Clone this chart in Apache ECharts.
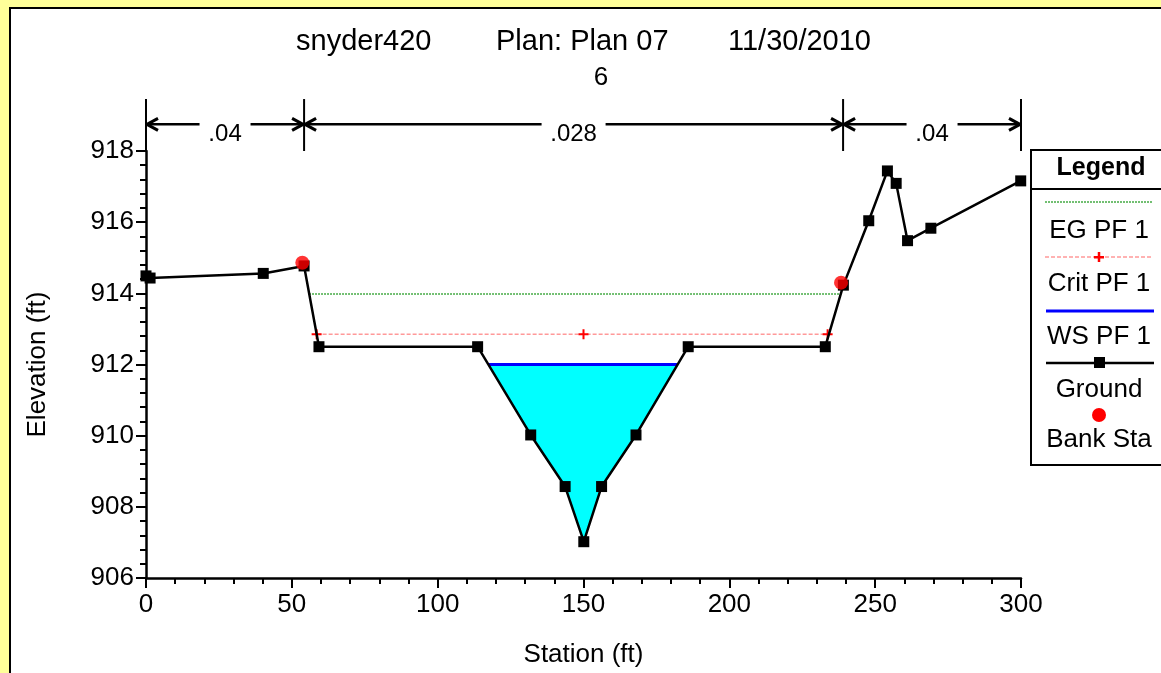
<!DOCTYPE html>
<html><head><meta charset="utf-8">
<script src="https://cdn.jsdelivr.net/npm/echarts@6/dist/echarts.min.js"></script>
<style>
html,body{margin:0;padding:0;width:1161px;height:673px;overflow:hidden;background:#FFFF99;}
#panel{position:absolute;left:9px;top:7px;right:0;bottom:0;background:#fff;border-left:2px solid #000;border-top:2px solid #000;}
#chart{position:absolute;left:0;top:0;width:1161px;height:673px;}
</style></head><body>
<div id="panel"></div><div id="chart"></div>
<script>
// ---- data ----
const groundStation = [0, 1.4, 40.2, 54.2, 59.3, 113.7, 131.9, 143.7, 150.1, 156.2, 168.0, 185.9, 232.9, 239.1, 247.8, 254.2, 257.2, 261.1, 269.1, 299.9];
const groundElev    = [914.49, 914.43, 914.56, 914.77, 912.5, 912.5, 910.02, 908.57, 907.02, 908.57, 910.02, 912.5, 912.5, 914.23, 916.04, 917.44, 917.09, 915.48, 915.83, 917.16];
const bankStation = [53.6, 238.3];
const bankElev    = [914.86, 914.3];
const egStation = [55.9, 238.1];
const egElev    = [913.98, 913.98];
const critStation = [58.5, 150, 233.7];
const critElev    = [912.85, 912.85, 912.85];
const wsStation = [117.3, 182.4];
const wsElev    = [912.0, 912.0];
const nStation = [0, 54.2, 239, 300];
const nValue   = ['.04', '.028', '.04'];
const xTickValues = [0, 50, 100, 150, 200, 250, 300];
const yTickValues = [906, 908, 910, 912, 914, 916, 918];

const titleParts = ['snyder420', 'Plan: Plan 07', '11/30/2010'];
const subTitle = '6';
const xName = 'Station (ft)';
const yName = 'Elevation (ft)';
const legendNames = ['EG PF 1', 'Crit PF 1', 'WS PF 1', 'Ground', 'Bank Sta'];

// ---- helpers ----
const FONT = "'Liberation Sans', Arial, sans-serif";
const zip = (a, b) => a.map((v, i) => [v, b[i]]);
const PLUS = 'path://M4,0H6V4H10V6H6V10H4V6H0V4H4Z';

const waterPoly = [[wsStation[0], wsElev[0]]]
  .concat(zip(groundStation, groundElev).filter(p => p[0] > wsStation[0] && p[0] < wsStation[1]))
  .concat([[wsStation[1], wsElev[1]]]);

const nTop = 919.46, nArrow = 918.75, nLabel = 918.48, nBottom = 918.0;

const chart = echarts.init(document.getElementById('chart'), null, {renderer: 'canvas'});

const axisCommon = {
  type: 'value',
  axisLine: {show: true, onZero: false, lineStyle: {color: '#000', width: 2.5}},
  axisTick: {show: true, length: 10, lineStyle: {color: '#000', width: 2}},
  minorTick: {show: true, splitNumber: 5, length: 6, lineStyle: {color: '#000', width: 2}},
  splitLine: {show: false},
  minorSplitLine: {show: false},
  axisLabel: {color: '#000', fontSize: 26, fontFamily: FONT},
  nameLocation: 'middle',
  nameTextStyle: {color: '#000', fontSize: 26, fontFamily: FONT}
};

const LX = 1099;
const txt = (x, y, s, f) => ({type: 'text', x: x, y: y, z: 101, style: {text: s, font: f || ('26px ' + FONT), fill: '#000', align: 'center', verticalAlign: 'middle'}});
const legendG = [
  {type: 'rect', shape: {x: 1031, y: 150, width: 150, height: 315}, style: {fill: '#fff', stroke: '#000', lineWidth: 2}, z: 100},
  {type: 'line', shape: {x1: 1031, y1: 189, x2: 1170, y2: 189}, style: {stroke: '#000', lineWidth: 2}, z: 101},
  txt(LX + 2, 168, 'Legend', 'bold 25px ' + FONT),
  {type: 'line', shape: {x1: 1045, y1: 202, x2: 1153, y2: 202}, style: {stroke: '#44AA44', lineWidth: 1.5, lineDash: [2, 1]}, z: 101},
  txt(LX, 231, legendNames[0]),
  {type: 'line', shape: {x1: 1045, y1: 257, x2: 1153, y2: 257}, style: {stroke: '#FF9999', lineWidth: 1.5, lineDash: [4, 2]}, z: 101},
  {type: 'rect', shape: {x: LX - 5, y: 256, width: 10, height: 2.5}, style: {fill: '#FF0000'}, z: 102},
  {type: 'rect', shape: {x: LX - 1.25, y: 252, width: 2.5, height: 10}, style: {fill: '#FF0000'}, z: 102},
  txt(LX, 284, legendNames[1]),
  {type: 'line', shape: {x1: 1046, y1: 311, x2: 1154, y2: 311}, style: {stroke: '#0000FF', lineWidth: 3}, z: 101},
  txt(LX, 337, legendNames[2]),
  {type: 'line', shape: {x1: 1046, y1: 363, x2: 1154, y2: 363}, style: {stroke: '#000', lineWidth: 2.5}, z: 101},
  {type: 'rect', shape: {x: LX - 5, y: 357, width: 11, height: 11}, style: {fill: '#000'}, z: 102},
  txt(LX, 390, legendNames[3]),
  {type: 'circle', shape: {cx: LX, cy: 415, r: 7}, style: {fill: '#FF0000'}, z: 102},
  txt(LX, 440, legendNames[4])
];

const ttl = (x, s) => ({type: 'text', x: x, y: 42, style: {text: s, font: '29px ' + FONT, fill: '#000', verticalAlign: 'middle'}});
const titleG = [
  ttl(296, titleParts[0]), ttl(496, titleParts[1]), ttl(728, titleParts[2]),
  {type: 'text', x: 601, y: 78, style: {text: subTitle, font: '26px ' + FONT, fill: '#000', align: 'center', verticalAlign: 'middle'}}
];

const option = {
  animation: false,
  backgroundColor: 'transparent',
  grid: {left: 146, right: 140, top: 151, bottom: 95, outerBoundsMode: 'none', containLabel: false},
  xAxis: Object.assign({}, axisCommon, {
    min: xTickValues[0], max: xTickValues[xTickValues.length - 1], interval: xTickValues[1] - xTickValues[0],
    axisLabel: Object.assign({}, axisCommon.axisLabel, {margin: 14}),
    name: xName, nameGap: 64
  }),
  yAxis: Object.assign({}, axisCommon, {
    min: yTickValues[0], max: yTickValues[yTickValues.length - 1], interval: yTickValues[1] - yTickValues[0],
    axisLabel: Object.assign({}, axisCommon.axisLabel, {margin: 12}),
    name: yName, nameGap: 95
  }),
  graphic: titleG.concat(legendG),
  series: [
    {
      type: 'custom', name: 'water', z: 1, silent: true, clip: false,
      data: [[wsStation[0], wsElev[0]]],
      renderItem: function (params, api) {
        const pts = waterPoly.map(p => api.coord(p));
        return {type: 'polygon', shape: {points: pts}, style: {fill: '#00FFFF'}};
      }
    },
    {
      type: 'line', name: legendNames[0], z: 2, data: zip(egStation, egElev), symbol: 'none',
      lineStyle: {color: '#44AA44', width: 1.5, type: [2, 1]}
    },
    {
      type: 'line', name: legendNames[1], z: 3, data: zip(critStation, critElev),
      symbol: PLUS, symbolSize: 10, showAllSymbol: true, itemStyle: {color: '#FF0000'},
      lineStyle: {color: '#FF9999', width: 1.5, type: [4, 2]}
    },
    {
      type: 'line', name: legendNames[2], z: 4, data: zip(wsStation, wsElev), symbol: 'none',
      lineStyle: {color: '#0000FF', width: 3}
    },
    {
      type: 'line', name: legendNames[3], z: 5, data: zip(groundStation, groundElev),
      symbol: 'rect', symbolSize: 11, showAllSymbol: true, itemStyle: {color: '#000'},
      lineStyle: {color: '#000', width: 2.5}
    },
    {
      type: 'scatter', name: legendNames[4], z: 6, data: zip(bankStation, bankElev),
      symbol: 'circle', symbolSize: 14, itemStyle: {color: '#FF0000'}
    },
    {
      type: 'custom', name: 'n', z: 7, silent: true, clip: false,
      data: nValue.map((v, i) => [nStation[i], nStation[i + 1]]),
      encode: {x: [0, 1]},
      renderItem: function (params, api) {
        const i = params.dataIndex;
        const a = nStation[i], b = nStation[i + 1];
        const pa = api.coord([a, nArrow]), pb = api.coord([b, nArrow]);
        const ta = api.coord([a, nTop]), ba = api.coord([a, nBottom]);
        const tb = api.coord([b, nTop]), bb = api.coord([b, nBottom]);
        const lab = api.coord([(a + b) / 2, nLabel]);
        const t = nValue[i];
        const half = t.length * 6.5 + 6;
        const ln = (x1, y1, x2, y2, w) => ({type: 'line', shape: {x1: x1, y1: y1, x2: x2, y2: y2}, style: {stroke: '#000', lineWidth: w || 2.5}});
        const y = pa[1];
        const ch = [
          ln(ta[0], ta[1], ba[0], ba[1], 2),
          ln(pa[0], y, lab[0] - half, y),
          ln(lab[0] + half, y, pb[0], y),
          ln(pa[0] + 1, y, pa[0] + 12, y - 6, 3),
          ln(pa[0] + 1, y, pa[0] + 12, y + 6, 3),
          ln(pb[0] - 1, y, pb[0] - 12, y - 6, 3),
          ln(pb[0] - 1, y, pb[0] - 12, y + 6, 3),
          {type: 'text', style: {text: t, x: lab[0], y: lab[1], font: '24px ' + FONT, fill: '#000', align: 'center', verticalAlign: 'middle'}}
        ];
        if (i === nValue.length - 1) ch.push(ln(tb[0], tb[1], bb[0], bb[1], 2));
        return {type: 'group', children: ch};
      }
    }
  ]
};
chart.setOption(option);
</script>
</body></html>
